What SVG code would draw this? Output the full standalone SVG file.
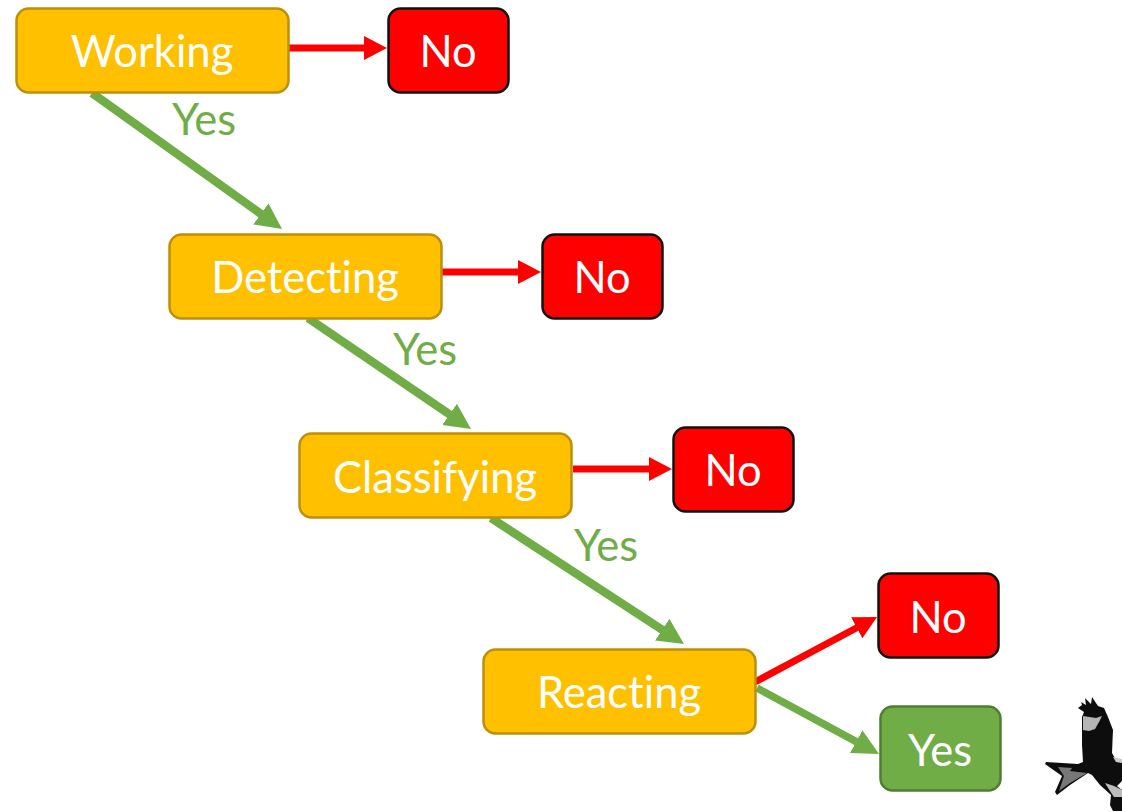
<svg xmlns="http://www.w3.org/2000/svg" width="1122" height="812" viewBox="0 0 1122 812">
<style>
.t{font-family:Lato,"Liberation Sans",sans-serif;font-size:43.5px;text-anchor:middle;font-variant-ligatures:none}
.w{fill:#fff}
.g{fill:#70ad47}
.amber{fill:#ffc000;stroke:#bc8f0c;stroke-width:2.5}
.red{fill:#f00;stroke:#111;stroke-width:2.5}
.grn{fill:#70ad47;stroke:#507e32;stroke-width:2.5}
.lr{stroke:#f00;stroke-width:7;fill:none}
.lg{stroke:#70ad47;stroke-width:8.5;fill:none}
.lg2{stroke:#70ad47;stroke-width:7.5;fill:none}
</style>
<defs>
<marker id="hr" markerUnits="userSpaceOnUse" markerWidth="26" markerHeight="26" refX="8" refY="13" orient="auto"><path d="M0 1L23 13L0 25Z" fill="#f00"/></marker>
<marker id="hg" markerUnits="userSpaceOnUse" markerWidth="28" markerHeight="28" refX="10" refY="14" orient="auto"><path d="M0 1L26 14L0 27Z" fill="#70ad47"/></marker>
<filter id="soft" x="-5%" y="-5%" width="110%" height="110%"><feGaussianBlur stdDeviation="0.5"/></filter>
</defs>
<rect width="1122" height="812" fill="#fff"/>
<g id="connectors">
<path class="lr" marker-end="url(#hr)" d="M289 48H372"/>
<path class="lr" marker-end="url(#hr)" d="M442 272H526"/>
<path class="lr" marker-end="url(#hr)" d="M573 469H657"/>
<path class="lr" marker-end="url(#hr)" d="M755 682L863.8 624"/>
<path class="lg" marker-end="url(#hg)" d="M92 93L269 219.7"/>
<path class="lg" marker-end="url(#hg)" d="M308 318L457.8 420"/>
<path class="lg" marker-end="url(#hg)" d="M491 518L670.6 635.2"/>
<path class="lg2" marker-end="url(#hg)" d="M757 688L865 746.4"/>
</g>
<g id="label-yes-1"><text class="t g" x="204" y="135">Yes</text></g>
<g id="label-yes-2"><text class="t g" x="425" y="365">Yes</text></g>
<g id="label-yes-3"><text class="t g" x="606" y="561">Yes</text></g>
<g id="working"><rect class="amber" x="16.5" y="8.5" width="272" height="84" rx="12"/><text class="t w" x="152" y="67">Working</text></g>
<g id="no-1"><rect class="red" x="388.5" y="8.5" width="120" height="84" rx="12"/><text class="t w" x="448" y="67">No</text></g>
<g id="detecting"><rect class="amber" x="169.5" y="234.5" width="272" height="84" rx="12"/><text class="t w" x="305" y="293">Detecting</text></g>
<g id="no-2"><rect class="red" x="542.5" y="234.5" width="120" height="84" rx="12"/><text class="t w" x="602" y="293">No</text></g>
<g id="classifying"><rect class="amber" x="299.5" y="433.5" width="272" height="84" rx="12"/><text class="t w" x="435" y="493">Classifying</text></g>
<g id="no-3"><rect class="red" x="673.5" y="427.5" width="120" height="84" rx="12"/><text class="t w" x="733" y="486">No</text></g>
<g id="reacting"><rect class="amber" x="483.5" y="649.5" width="272" height="84" rx="12"/><text class="t w" x="619" y="708">Reacting</text></g>
<g id="no-4"><rect class="red" x="878.5" y="573.5" width="120" height="84" rx="12"/><text class="t w" x="938" y="633">No</text></g>
<g id="yes-final"><rect class="grn" x="880.5" y="706.5" width="120" height="84" rx="12"/><text class="t w" x="940" y="766">Yes</text></g>
<g id="bird" filter="url(#soft)">
<path fill="#111" d="M1078 708L1082 705L1081 702L1086 705L1085 698L1091 704L1092 697L1098 706L1104 708L1108 717L1113 730L1112 753L1116 760L1122 762V781L1117 786L1122 790V811H1113L1110 805L1111 795L1100 785L1092 775L1088 773L1070 785L1057 795L1055 792L1062 776L1045 764L1046 762L1078 764L1083 762L1082 745L1082 717L1084 712Z"/>
<path fill="#b5b5b5" d="M1083 716L1096 718L1102 716L1099 722L1095 729L1089 731L1083 730Z"/>
<path fill="#777" d="M1058 767L1072 768L1070 771L1078 772L1087 773L1070 783L1059 791L1064 776Z"/>
<path fill="#bbb" d="M1105 783L1114 786L1122 790V797L1114 797L1110 791Z"/>
<path fill="#ccc" d="M1113 757L1122 759V763L1116 762Z"/>
</g>
</svg>
